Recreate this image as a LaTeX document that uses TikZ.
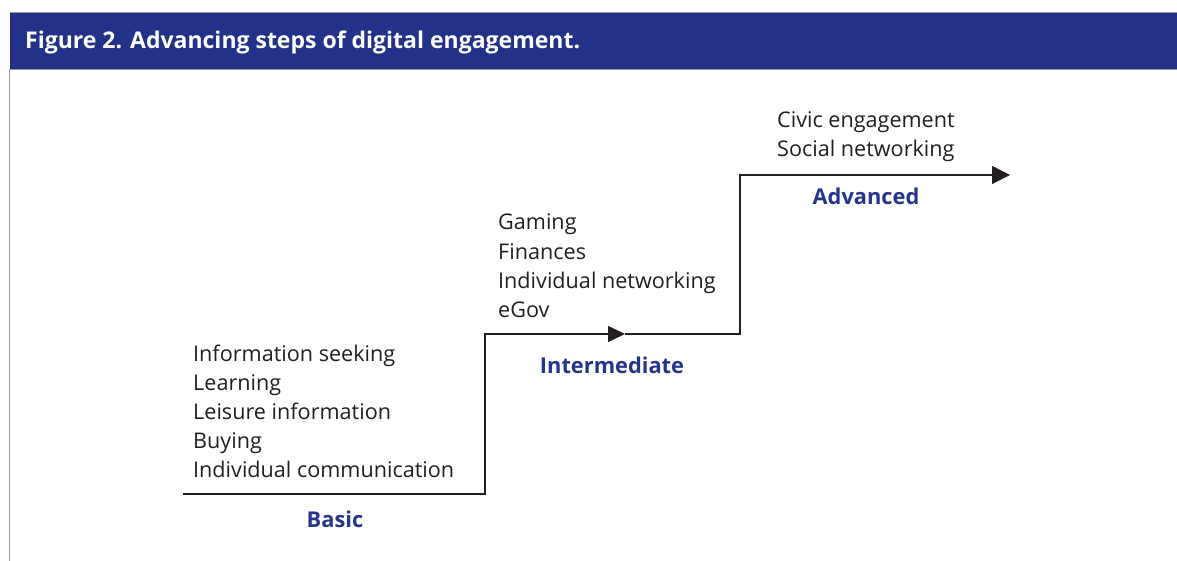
\documentclass[tikz,border=0pt]{standalone}
\usepackage{fontspec}
\setmainfont{Open Sans}
\usetikzlibrary{arrows.meta}
\definecolor{hdrblue}{HTML}{233188}
\definecolor{lblblue}{HTML}{27348B}
\definecolor{txtgrey}{HTML}{231F20}
\tikzset{
  item/.style={anchor=base west,inner sep=0pt,font=\fontsize{21.6}{29}\selectfont,text=txtgrey},
  level/.style={anchor=base,inner sep=0pt,font=\fontsize{21.8}{24}\selectfont\bfseries,text=lblblue},
  stair/.style={draw=txtgrey,line width=1.3pt},
}
\begin{document}
\begin{tikzpicture}[x=1pt,y=-1pt]
\useasboundingbox (0,0) rectangle (1177,561);
% header
\fill[hdrblue] (9.5,12.5) rectangle (1177,69.5);
\draw[gray!80,line width=1pt] (9.5,12.5) -- (1177,12.5);
\draw[gray!80,line width=1pt] (1177,69.5) -- (9.5,69.5) -- (9.5,561);
\node[anchor=base west,inner sep=0pt,text=white,font=\fontsize{23}{24}\selectfont\bfseries] (title) at (25,49) {Figure 2. Advancing steps of digital engagement.};
% staircase
\coordinate (s0) at (183,494);
\coordinate (s1) at (485,494);
\coordinate (s2) at (485,334);
\coordinate (m)  at (625,334);
\coordinate (s3) at (740,334);
\coordinate (s4) at (740,175);
\coordinate (s5) at (1010,175);
\draw[stair,-{Triangle[length=17pt,width=16pt]}] (s0) -- (s1) -- (s2) -- (m);
\draw[stair,-{Triangle[length=18pt,width=18pt]}] (m) -- (s3) -- (s4) -- (s5);
% texts
\node[item] (b1) at (193,361) {Information seeking};
\node[item] (b2) at (193,390) {Learning};
\node[item] (b3) at (193,419) {Leisure information};
\node[item] (b4) at (193,448) {Buying};
\node[item] (b5) at (193,477) {Individual communication};
\node[item] (i1) at (498,230) {Gaming};
\node[item] (i2) at (498,259) {Finances};
\node[item] (i3) at (498,288) {Individual networking};
\node[item] (i4) at (498,317) {eGov};
\node[item] (a1) at (777,128) {Civic engagement};
\node[item] (a2) at (777,157) {Social networking};
\node[level] (basic) at (335,527) {Basic};
\node[level] (inter) at (612,373) {Intermediate};
\node[level] (adv) at (866,205) {Advanced};
\end{tikzpicture}
\end{document}
